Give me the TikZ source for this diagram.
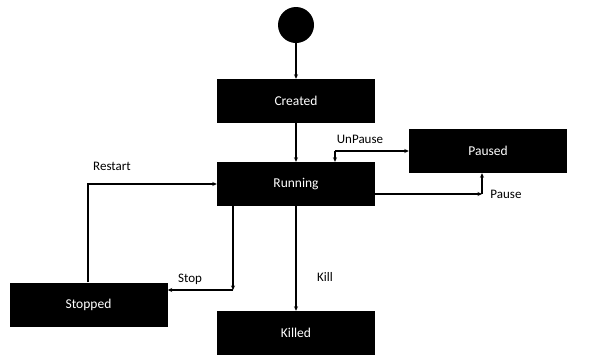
\documentclass[tikz,border=0pt]{standalone}
\usepackage{fontspec}
\setmainfont{Carlito}
\usetikzlibrary{arrows.meta}
\begin{document}
\begin{tikzpicture}[x=1pt,y=-1pt,
  state/.style={fill=black,draw=none,minimum width=158pt,minimum height=44pt,inner sep=0pt,text=white,font=\fontsize{13.5}{15}\selectfont},
  lbl/.style={font=\fontsize{13}{15}\selectfont,inner sep=0pt},
  conn/.style={line width=1.2pt,-{Stealth[length=4.5pt,width=4pt]}}]
\useasboundingbox (0,0) rectangle (600,362);
\node[circle,fill=black,minimum size=36pt,inner sep=0pt] (init) at (296,25) {};
\node[state] (created) at (296,101) {Created};
\node[state] (running) at (296,184) {Running};
\node[state] (paused) at (488,151) {Paused};
\node[state] (stopped) at (88.5,304.5) {Stopped};
\node[state] (killed) at (296,333) {Killed};
\coordinate (uc) at (335,151);
\coordinate (pc) at (482,194);
\coordinate (rc) at (88,184);
\coordinate (sc) at (233,290);
\draw[conn] (init) -- (created);
\draw[conn] (created) -- (running);
\draw[conn] (uc) -- (paused.west);
\draw[conn] (uc) -- (uc|-running.north);
\draw[conn] (running.east|-pc) -- (pc);
\draw[conn] (pc) -- (pc|-paused.south);
\draw[conn] (stopped.north-|rc) -- (rc) -- (running.west|-rc);
\draw[conn] (running.south-|sc) -- (sc);
\draw[conn] (sc) -- (stopped.east|-sc);
\draw[conn] (running) -- (killed);
\node[lbl] (lunpause) at (360,139) {UnPause};
\node[lbl] (lpause) at (506,194) {Pause};
\node[lbl] (lrestart) at (112,166) {Restart};
\node[lbl] (lstop) at (190,279) {Stop};
\node[lbl] (lkill) at (325,277) {Kill};
\end{tikzpicture}
\end{document}
